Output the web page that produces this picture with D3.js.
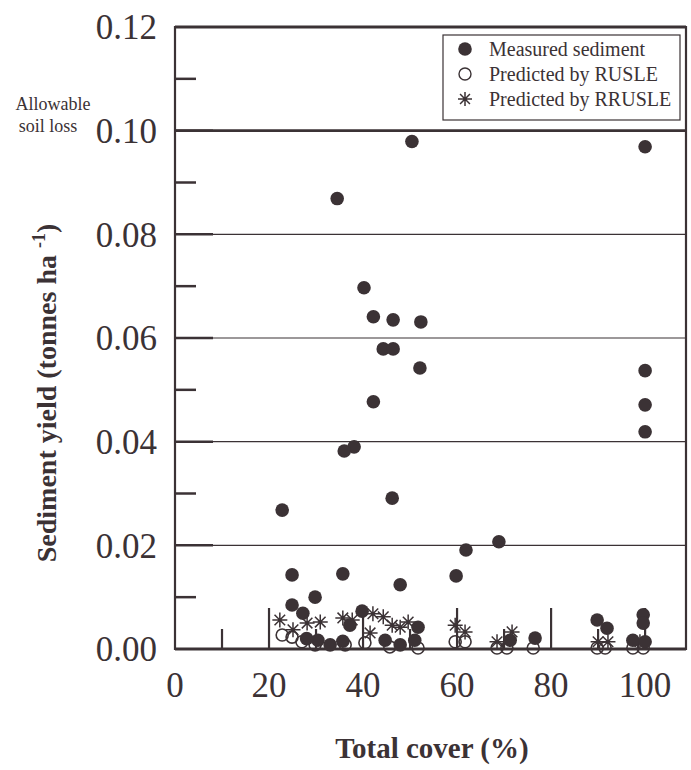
<!DOCTYPE html>
<html>
<head>
<meta charset="utf-8">
<script src="https://cdn.jsdelivr.net/npm/d3@7"></script>
<style>
  body { margin: 0; background: #fff; }
  svg { display: block; font-family: "Liberation Serif", "Times New Roman", serif; }
</style>
</head>
<body>
<svg id="chart" width="691" height="770"></svg>
<script>
// values
const measuredCover = [50.4, 100, 34.5, 40.2, 42.2, 46.4, 52.3, 44.3, 46.4, 52.1, 100, 42.2, 100, 100,
  38.1, 36.0, 46.2, 22.8, 68.9, 61.9, 24.9, 35.7, 59.8, 47.9, 29.8, 24.9, 27.2, 39.8, 51.7, 71.3,
  76.6, 89.8, 91.9, 99.6, 99.6, 97.4, 100, 30.4, 33.0, 37.2, 44.7, 47.9, 51.0, 28.0, 35.7];
const measuredYield = [0.0979, 0.0969, 0.0869, 0.0697, 0.0641, 0.0635, 0.0631, 0.0579, 0.0579, 0.0542,
  0.0537, 0.0477, 0.0471, 0.0419, 0.0390, 0.0382, 0.0291, 0.0268, 0.0207, 0.0191, 0.0143, 0.0145,
  0.0141, 0.0124, 0.0100, 0.0085, 0.0069, 0.0073, 0.0042, 0.0017, 0.0021, 0.0056, 0.0040, 0.0066,
  0.0050, 0.0017, 0.0014, 0.0017, 0.0008, 0.0046, 0.0017, 0.0008, 0.0017, 0.0020, 0.0015];

const rusleCover = [22.8, 24.9, 27.0, 29.8, 36.2, 40.4, 45.7, 51.7, 59.6, 61.7, 68.5, 70.6, 76.2,
  89.8, 91.5, 97.4, 99.6];
const rusleYield = [0.0027, 0.0023, 0.0014, 0.0008, 0.0008, 0.0012, 0.0004, 0.0002, 0.0014, 0.0014,
  0.0002, 0.0002, 0.0002, 0.0002, 0.0002, 0.0002, 0.0002];

const rrusleCover = [22.3, 25.1, 28.1, 30.9, 35.7, 37.7, 41.5, 42.1, 44.3, 46.2, 47.9, 49.6, 59.6,
  61.7, 68.5, 71.7, 90.0, 92.1, 98.9];
const rrusleYield = [0.0056, 0.0037, 0.0050, 0.0052, 0.0060, 0.0056, 0.0031, 0.0068, 0.0062, 0.0046,
  0.0042, 0.0052, 0.0046, 0.0033, 0.0014, 0.0033, 0.0014, 0.0014, 0.0014];

const xTicks = [0, 10, 20, 30, 40, 50, 60, 70, 80, 90, 100];
const xLabels = [0, 20, 40, 60, 80, 100];
const yTicks = [0, 0.01, 0.02, 0.03, 0.04, 0.05, 0.06, 0.07, 0.08, 0.09, 0.10, 0.11, 0.12];
const yLabels = [0, 0.02, 0.04, 0.06, 0.08, 0.10, 0.12];
const allowable = 0.10;

const legendItems = ["Measured sediment", "Predicted by RUSLE", "Predicted by RRUSLE"];

const ink = "#3b3235";

let svg = d3.select("#chart");

let x = d3.scaleLinear().domain([0, 108.7]).range([175, 686]);
let y = d3.scaleLinear().domain([0, 0.12]).range([649, 27]);

let g = svg.append("g");

// gridlines at even ticks
g.selectAll("line.grid")
    .data(yLabels.filter(d => d > 0 && d < 0.12))
  .enter().append("line")
    .attr("class", "grid")
    .attr("x1", x(0)).attr("x2", x(108.7))
    .attr("y1", d => y(d)).attr("y2", d => y(d))
    .attr("stroke", ink)
    .attr("stroke-width", d => d === allowable ? 2.6 : 1.1);

// left ticks, long on labelled values
g.selectAll("line.ytick")
    .data(yTicks.filter(d => d > 0 && d < 0.12))
  .enter().append("line")
    .attr("x1", x(0))
    .attr("x2", d => x(0) + (yLabels.includes(d) ? 38 : 21))
    .attr("y1", d => y(d)).attr("y2", d => y(d))
    .attr("stroke", ink)
    .attr("stroke-width", 2.5);

// bottom ticks, long on labelled values
g.selectAll("line.xtick")
    .data(xTicks.filter(d => d > 0))
  .enter().append("line")
    .attr("x1", d => x(d)).attr("x2", d => x(d))
    .attr("y1", y(0))
    .attr("y2", d => y(0) - (xLabels.includes(d) ? 41 : 20))
    .attr("stroke", ink)
    .attr("stroke-width", 2.2);

// frame
g.append("path")
    .attr("d", `M${x(0)},${y(0.12)}H${x(108.7)}V${y(0)}H${x(0)}Z`)
    .attr("fill", "none")
    .attr("stroke", ink)
    .attr("stroke-width", 2.2);
g.append("line")
    .attr("x1", x(0)).attr("x2", x(108.7))
    .attr("y1", y(0.12)).attr("y2", y(0.12))
    .attr("stroke", ink).attr("stroke-width", 3.2);
g.append("line")
    .attr("x1", x(0)).attr("x2", x(108.7))
    .attr("y1", y(0)).attr("y2", y(0))
    .attr("stroke", ink).attr("stroke-width", 3.2);

// tick labels
g.selectAll("text.ylab")
    .data(yLabels)
  .enter().append("text")
    .attr("x", 157)
    .attr("y", d => y(d))
    .attr("dy", "0.35em")
    .attr("text-anchor", "end")
    .attr("font-size", 35)
    .attr("fill", ink)
    .text(d => d.toFixed(2));

g.selectAll("text.xlab")
    .data(xLabels)
  .enter().append("text")
    .attr("x", d => x(d))
    .attr("y", 697)
    .attr("text-anchor", "middle")
    .attr("font-size", 35)
    .attr("fill", ink)
    .text(d => d);

// allowable soil loss note
let note = g.append("text")
    .attr("font-size", 18)
    .attr("fill", ink)
    .attr("text-anchor", "middle");
note.append("tspan").attr("x", 53).attr("y", y(allowable) - 21).text("Allowable");
note.append("tspan").attr("x", 48).attr("y", y(allowable) + 1).text("soil loss");

// axis titles
g.append("text")
    .attr("x", 432).attr("y", 758)
    .attr("text-anchor", "middle")
    .attr("font-size", 29)
    .attr("font-weight", "bold")
    .attr("fill", ink)
    .text("Total cover (%)");

let yt = g.append("text")
    .attr("transform", `translate(56,${(y(0) + y(0.12)) / 2 + 55}) rotate(-90)`)
    .attr("text-anchor", "middle")
    .attr("font-size", 28)
    .attr("font-weight", "bold")
    .attr("fill", ink);
yt.append("tspan").text("Sediment yield (tonnes ha ");
yt.append("tspan").attr("dy", -11).attr("font-size", 18).text("-1");
yt.append("tspan").attr("dy", 11).text(")");

// symbols
const star = (s) => {
  let p = d3.path();
  for (let a = 0; a < 4; a++) {
    let t = a * Math.PI / 4;
    p.moveTo(-s * Math.cos(t), -s * Math.sin(t));
    p.lineTo(s * Math.cos(t), s * Math.sin(t));
  }
  return p.toString();
};

let marks = svg.append("g");

marks.selectAll("circle.rusle")
    .data(rusleCover.map((c, i) => [c, rusleYield[i]]))
  .enter().append("circle")
    .attr("cx", d => x(d[0])).attr("cy", d => y(d[1]))
    .attr("r", 6)
    .attr("fill", "none")
    .attr("stroke", ink)
    .attr("stroke-width", 1.6);

marks.selectAll("path.rrusle")
    .data(rrusleCover.map((c, i) => [c, rrusleYield[i]]))
  .enter().append("path")
    .attr("transform", d => `translate(${x(d[0])},${y(d[1])})`)
    .attr("d", star(7.5))
    .attr("stroke", ink)
    .attr("stroke-width", 1.5);

marks.selectAll("circle.measured")
    .data(measuredCover.map((c, i) => [c, measuredYield[i]]))
  .enter().append("circle")
    .attr("cx", d => x(d[0])).attr("cy", d => y(d[1]))
    .attr("r", 6.8)
    .attr("fill", ink);

// legend
let lg = svg.append("g");
lg.append("rect")
    .attr("x", 443).attr("y", 35).attr("width", 237).attr("height", 85)
    .attr("fill", "#fff").attr("stroke", ink).attr("stroke-width", 1.2);

let rows = lg.selectAll("g.row")
    .data(legendItems)
  .enter().append("g")
    .attr("transform", (d, i) => `translate(465,${49 + i * 25})`);

rows.append("text")
    .attr("x", 24).attr("dy", "0.35em")
    .attr("font-size", 20)
    .attr("fill", ink)
    .text(d => d);

rows.filter((d, i) => i === 0).append("circle").attr("r", 6.8).attr("fill", ink);
rows.filter((d, i) => i === 1).append("circle").attr("r", 6)
    .attr("fill", "none").attr("stroke", ink).attr("stroke-width", 1.4);
rows.filter((d, i) => i === 2).append("path").attr("d", star(7))
    .attr("stroke", ink).attr("stroke-width", 1.5);
</script>
</body>
</html>
